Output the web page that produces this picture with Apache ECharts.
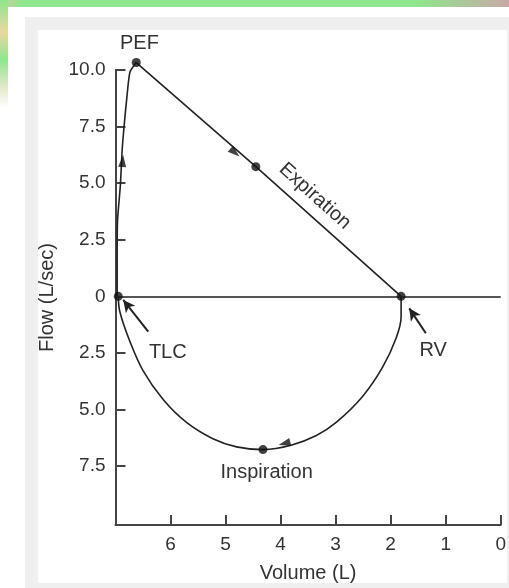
<!DOCTYPE html>
<html>
<head>
<meta charset="utf-8">
<script src="https://cdn.jsdelivr.net/npm/echarts@6/dist/echarts.min.js"></script>
<style>
html,body{margin:0;padding:0;background:#fff;width:509px;height:588px;overflow:hidden;position:relative;}
.bg{position:absolute;}
#chart{position:absolute;left:0;top:0;width:509px;height:588px;}
</style>
</head>
<body>
<div class="bg" style="left:0;top:0;width:509px;height:7px;background:linear-gradient(to right,#d8c9a0 0%,#8fe68c 4%,#8fe68c 82%,#c8a8a8 100%);"></div>
<div class="bg" style="left:0;top:0;width:8px;height:108px;background:linear-gradient(to bottom,#8fe68c 0%,#e9d8a0 30%,#8fe68c 55%,#e0e8c8 80%,#ffffff 100%);"></div>
<div class="bg" style="left:25px;top:17px;width:484px;height:571px;background:#efefef;"></div>
<div class="bg" style="left:38px;top:30px;width:469px;height:553px;background:#ffffff;"></div>
<div id="chart"></div>
<script>
// ---- data (Volume in L, Flow in L/sec; inspiratory flow negative) ----
const xTicks = [0, 1, 2, 3, 4, 5, 6, 7];
const yTicks = [10, 7.5, 5, 2.5, 0, -2.5, -5, -7.5];

// rising expiratory limb: TLC -> PEF
const upVolume = [6.97, 6.97, 6.964, 6.91, 6.88, 6.846, 6.79, 6.737, 6.623];
const upFlow   = [0,    1.52, 3.3,   4.96, 6.43, 7.46,  8.88, 9.91,  10.33];

// descending expiratory limb: PEF -> RV
const expVolume = [6.623, 4.45, 1.81];
const expFlow   = [10.33, 5.73, 0];

// inspiratory limb: RV -> TLC
const inVolume = [1.81, 1.81, 1.90, 2.146, 2.51, 2.99, 3.35, 3.81, 4.32, 4.80, 5.23, 5.71, 6.13, 6.50, 6.74, 6.92, 6.95];
const inFlow   = [0,   -0.9, -1.84, -3.13, -4.42, -5.57, -6.15, -6.58, -6.77, -6.65, -6.29, -5.57, -4.57, -3.28, -1.98, -0.69, 0];

// key points: TLC, PEF, mid-expiration, RV, mid-inspiration
const keyVolume = [6.95, 6.623, 4.45, 1.81, 4.32];
const keyFlow   = [0,    10.33, 5.73, 0,    -6.77];

// direction arrows on the loop
const arrowVolume = [6.87, 4.83, 3.93];
const arrowFlow   = [5.98, 6.35, -6.5];
const arrowAngle  = [-5, -131, 105];

// annotation pointers [Volume, Flow]
const pointerFrom = [[6.405, -1.56], [1.36, -1.63]];
const pointerTo   = [[6.86, -0.16], [1.662, -0.53]];

// text annotations
const noteText   = ['PEF', 'Expiration', 'TLC', 'RV', 'Inspiration'];
const noteVolume = [6.565, 3.375, 6.05, 1.227, 4.254];
const noteFlow   = [11.19, 4.43, -2.46, -2.37, -7.8];
const noteRotate = [0, -42, 0, 0, 0];

const FONT = '"Liberation Sans", Arial, Helvetica, sans-serif';
const TXT = '#333';
const LINE = '#222';

const zip = (a, b) => a.map((v, i) => [v, b[i]]);

const chart = echarts.init(document.getElementById('chart'), null, {renderer: 'canvas'});
const option = {
  backgroundColor: 'transparent',
  animation: false,
  grid: {left: 115.5, right: 7.3, top: 70, bottom: 63, containLabel: false},
  xAxis: {
    type: 'value', inverse: true, min: 0, max: 7, interval: 1,
    name: 'Volume (L)', nameLocation: 'middle', nameGap: 38,
    nameTextStyle: {fontFamily: FONT, fontSize: 20, color: TXT},
    axisLine: {show: true, onZero: false, lineStyle: {color: '#444', width: 2}},
    axisTick: {show: true, inside: true, length: 10, lineStyle: {color: '#444', width: 2}},
    axisLabel: {fontFamily: FONT, fontSize: 19, color: TXT, margin: 10,
      formatter: v => (v === 7 ? '' : String(v))},
    splitLine: {show: false}
  },
  yAxis: {
    type: 'value', min: -10.1, max: 10,
    name: 'Flow (L/sec)', nameLocation: 'middle', nameGap: 58, nameRotate: 90,
    nameTextStyle: {fontFamily: FONT, fontSize: 20, color: TXT},
    axisLine: {show: true, onZero: false, lineStyle: {color: '#444', width: 2}},
    axisTick: {show: true, inside: true, length: 10, customValues: yTicks, lineStyle: {color: '#444', width: 2}},
    axisLabel: {fontFamily: FONT, fontSize: 19, color: TXT, margin: 10, customValues: yTicks,
      formatter: v => (v === 0 ? '0' : Math.abs(v).toFixed(1))},
    splitLine: {show: false}
  },
  series: [
    {
      type: 'line', name: 'zero', data: [], silent: true,
      markLine: {silent: true, symbol: ['none', 'none'], label: {show: false},
        lineStyle: {color: '#555', width: 2, type: 'solid'},
        data: [{yAxis: 0}]}
    },
    {
      type: 'line', name: 'rise', data: zip(upVolume, upFlow), smooth: 0.2, clip: false,
      showSymbol: false, lineStyle: {color: LINE, width: 1.6}, z: 3
    },
    {
      type: 'line', name: 'expiration', data: zip(expVolume, expFlow), clip: false,
      showSymbol: false, lineStyle: {color: LINE, width: 1.6}, z: 3
    },
    {
      type: 'line', name: 'inspiration', data: zip(inVolume, inFlow), smooth: 0.35, clip: false,
      showSymbol: false, lineStyle: {color: LINE, width: 1.6}, z: 3
    },
    {
      type: 'scatter', name: 'points', data: zip(keyVolume, keyFlow), clip: false,
      symbol: 'circle', symbolSize: 9, itemStyle: {color: '#111'}, z: 5,
      markLine: {silent: true, symbol: ['none', 'arrow'], symbolSize: [9, 12], label: {show: false},
        lineStyle: {color: LINE, width: 2, type: 'solid'},
        data: pointerFrom.map((f, i) => [{coord: f}, {coord: pointerTo[i]}])}
    },
    {
      type: 'scatter', name: 'arrows', clip: false,
      data: arrowVolume.map((v, i) => ({value: [v, arrowFlow[i]], symbolRotate: arrowAngle[i]})),
      symbol: 'triangle', symbolSize: [8, 12], itemStyle: {color: '#111'}, z: 6
    }
  ]
};
chart.setOption(option);

const texts = noteText.map((t, i) => {
  const p = chart.convertToPixel({gridIndex: 0}, [noteVolume[i], noteFlow[i]]);
  return {
    type: 'text', x: p[0], y: p[1], rotation: noteRotate[i] * Math.PI / 180,
    style: {text: t, fill: TXT, font: '20px ' + FONT, align: 'center', verticalAlign: 'middle'},
    z: 10
  };
});
chart.setOption({graphic: texts});
</script>
</body>
</html>
